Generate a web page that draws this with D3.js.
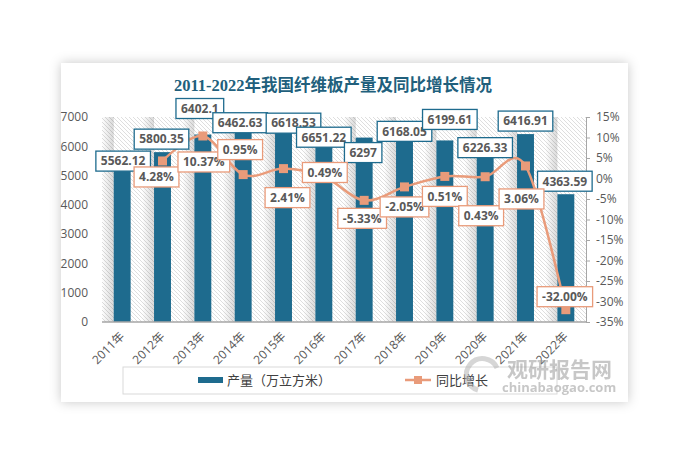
<!DOCTYPE html>
<html>
<head>
<meta charset="utf-8">
<script src="https://cdn.jsdelivr.net/npm/d3@7"></script>
<style>
body { margin: 0; background: #fff; }
svg { display: block; }
text { font-family: "Open Sans", "Noto Sans CJK SC", sans-serif; }
</style>
</head>
<body>
<div id="chart"></div>
<script>
var years = ['2011年', '2012年', '2013年', '2014年', '2015年', '2016年', '2017年', '2018年', '2019年', '2020年', '2021年', '2022年'];
var output = [5562.12, 5800.35, 6402.1, 6462.63, 6618.53, 6651.22, 6297, 6168.05, 6199.61, 6226.33, 6416.91, 4363.59];
var growth = [null, 4.28, 10.37, 0.95, 2.41, 0.49, -5.33, -2.05, 0.51, 0.43, 3.06, -32.00];
var leftTicks = [0, 1000, 2000, 3000, 4000, 5000, 6000, 7000];
var rightTicks = [-35, -30, -25, -20, -15, -10, -5, 0, 5, 10, 15];

// label nudges (px) as placed in the original chart
var barLabelShift = [[1, 2], [-1, -13], [-3, -26], [-3, -10], [10, -5], [0, 10], [-1, 15], [0, -10], [5, -21], [0, 8], [0, -13], [-1, -13]];
var pctLabelShift = [null, [-6, 16], [1, 26], [-3, -25], [4, 29], [1, -4], [-2, 18], [0, 20], [0, 20], [-4, 39], [-4, 33], [-1, -13]];

var W = 684, H = 466;
var blue = '#1e6b8e', orange = '#e99b7a', grey = '#595959';

var svg = d3.select('#chart').append('svg').attr('width', W).attr('height', H);
var defs = svg.append('defs');

var shadow = defs.append('filter').attr('id', 'panelShadow')
	.attr('x', '-10%').attr('y', '-10%').attr('width', '120%').attr('height', '120%');
shadow.append('feDropShadow').attr('dx', 0).attr('dy', 0).attr('stdDeviation', 6)
	.attr('flood-color', '#000').attr('flood-opacity', 0.22);

var hatch = defs.append('pattern').attr('id', 'hatch').attr('patternUnits', 'userSpaceOnUse')
	.attr('width', 4).attr('height', 4);
hatch.append('rect').attr('width', 4).attr('height', 4).attr('fill', '#fff');
hatch.append('path').attr('d', 'M-1,-1L5,5M3,-1L5,1M-1,3L1,5')
	.attr('stroke', '#dadada').attr('stroke-width', 0.9);

var grad = defs.append('linearGradient').attr('id', 'barShade');
grad.append('stop').attr('offset', '0%').attr('stop-color', '#000').attr('stop-opacity', 0);
grad.append('stop').attr('offset', '100%').attr('stop-color', '#000').attr('stop-opacity', 0.15);

svg.append('rect').attr('x', 61).attr('y', 63).attr('width', 567).attr('height', 339)
	.attr('fill', '#fff').attr('filter', 'url(#panelShadow)');

svg.append('text').attr('x', 333).attr('y', 91).attr('text-anchor', 'middle')
	.style('font-family', '"Liberation Serif", "Noto Sans CJK SC", serif')
	.style('font-size', '16.5px').style('font-weight', 'bold').attr('fill', '#215f7c')
	.text('2011-2022年我国纤维板产量及同比增长情况');

var plotL = 102, plotR = 586, plotT = 117, plotB = 322;

var x = d3.scaleBand().domain(years).range([plotL, plotR]).paddingInner(0.58).paddingOuter(0.29);
var y = d3.scaleLinear().domain([0, 7000]).range([plotB, plotT]);
var y2 = d3.scaleLinear().domain([-35, 15]).range([plotB, plotT]);
var cx = function (d) { return x(d) + x.bandwidth() / 2; };

svg.append('rect').attr('x', plotL).attr('y', plotT).attr('width', plotR - plotL).attr('height', plotB - plotT)
	.attr('fill', 'url(#hatch)');

svg.append('g').selectAll('rect').data(years).enter().append('rect')
	.attr('x', function (d) { return x(d) - 12; })
	.attr('y', plotT).attr('width', 12).attr('height', plotB - plotT)
	.attr('fill', 'url(#barShade)');

svg.append('g').selectAll('rect').data(output).enter().append('rect')
	.attr('x', function (d, i) { return x(years[i]); })
	.attr('y', function (d) { return y(d); })
	.attr('width', x.bandwidth())
	.attr('height', function (d) { return plotB - y(d); })
	.attr('fill', blue);

// axes
var leftAxis = svg.append('g').attr('transform', 'translate(' + plotL + ',0)')
	.call(d3.axisLeft(y).tickValues(leftTicks).tickSize(0).tickPadding(14).tickFormat(d3.format('d')));
leftAxis.select('.domain').remove();

var rightAxis = svg.append('g').attr('transform', 'translate(' + plotR + ',0)')
	.call(d3.axisRight(y2).tickValues(rightTicks).tickSize(4).tickPadding(6)
		.tickFormat(function (d) { return d + '%'; }));
rightAxis.select('.domain').attr('stroke', '#a6a6a6');
rightAxis.selectAll('.tick line').attr('stroke', '#a6a6a6');

svg.selectAll('.tick text').attr('fill', grey).style('font-size', '12px')
	.style('font-family', '"Open Sans", sans-serif');

svg.append('line').attr('x1', plotL).attr('x2', plotR).attr('y1', plotB).attr('y2', plotB)
	.attr('stroke', '#a6a6a6').attr('stroke-width', 1.5);

svg.append('g').selectAll('text').data(years).enter().append('text')
	.attr('transform', function (d) { return 'translate(' + (cx(d) + 3) + ',337) rotate(-45)'; })
	.attr('text-anchor', 'end').attr('fill', grey).style('font-size', '12px')
	.text(function (d) { return d; });

// growth line
var pts = [];
growth.forEach(function (g, i) { if (g !== null) pts.push({ i: i, v: g }); });

var line = d3.line()
	.x(function (d) { return cx(years[d.i]); })
	.y(function (d) { return y2(d.v); })
	.curve(d3.curveCardinal.tension(0));

svg.append('path').datum(pts).attr('d', line)
	.attr('fill', 'none').attr('stroke', orange).attr('stroke-width', 2.5);

svg.append('g').selectAll('rect').data(pts).enter().append('rect')
	.attr('x', function (d) { return cx(years[d.i]) - 4.5; })
	.attr('y', function (d) { return y2(d.v) - 4.5; })
	.attr('width', 9).attr('height', 9).attr('fill', orange);

// data labels
function boxLabel(g, px, py, txt, border) {
	var grp = g.append('g');
	var rect = grp.append('rect').attr('fill', '#fff').attr('stroke', border).attr('stroke-width', 1.3);
	var t = grp.append('text').attr('x', px).attr('y', py + 4.3).attr('text-anchor', 'middle')
		.attr('fill', grey).style('font-size', '12px').style('font-weight', 'bold').text(txt);
	var w = t.node().getComputedTextLength() + 10;
	rect.attr('x', px - w / 2).attr('y', py - 10).attr('width', w).attr('height', 20);
}

var labels = svg.append('g');
output.forEach(function (v, i) {
	var s = barLabelShift[i];
	boxLabel(labels, cx(years[i]) + s[0], y(v) + s[1], String(v), blue);
});
pts.forEach(function (d) {
	var s = pctLabelShift[d.i];
	boxLabel(labels, cx(years[d.i]) + s[0], y2(d.v) + s[1], d.v.toFixed(2) + '%', orange);
});

// legend
svg.append('rect').attr('x', 123).attr('y', 367).attr('width', 434).attr('height', 27)
	.attr('fill', 'none').attr('stroke', '#d9d9d9');
svg.append('rect').attr('x', 198).attr('y', 377).attr('width', 25).attr('height', 6).attr('fill', blue);
svg.append('text').attr('x', 227).attr('y', 385).attr('fill', '#404040').style('font-size', '13px')
	.text('产量（万立方米）');
svg.append('line').attr('x1', 405).attr('x2', 431).attr('y1', 380).attr('y2', 380)
	.attr('stroke', orange).attr('stroke-width', 2.5);
svg.append('rect').attr('x', 414).attr('y', 376).attr('width', 8).attr('height', 8).attr('fill', orange);
svg.append('text').attr('x', 436).attr('y', 385).attr('fill', '#404040').style('font-size', '13px')
	.text('同比增长');

// watermark
var wm = svg.append('g').attr('opacity', 0.55);
wm.append('path').attr('d', 'M497,368 A16,16 0 1 0 478,390')
	.attr('fill', 'none').attr('stroke', '#b5b5b5').attr('stroke-width', 5);
wm.append('text').attr('x', 507).attr('y', 377).attr('fill', '#9a9a9a')
	.style('font-size', '21px').style('font-weight', 'bold').text('观研报告网');
wm.append('text').attr('x', 502).attr('y', 392).attr('fill', '#9a9a9a')
	.style('font-size', '13px').style('font-weight', 'bold').text('chinabaogao.com');
</script>
</body>
</html>
